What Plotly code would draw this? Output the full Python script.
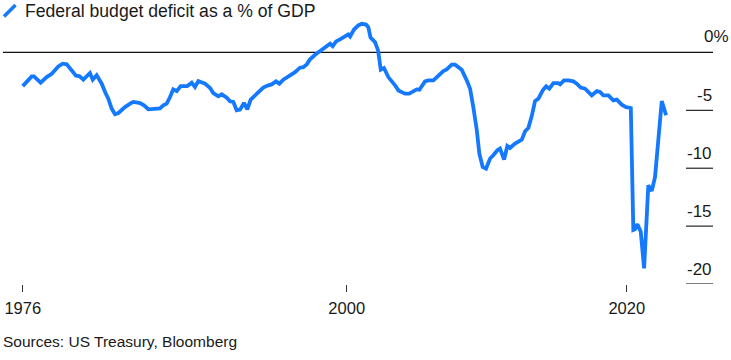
import plotly.graph_objects as go

# Data: 12-month federal budget balance as % of GDP
years = [
    1976.86, 1977.50, 1977.66, 1978.14, 1978.57, 1978.93, 1979.40, 1979.71, 1980.00, 1980.36,
    1980.66, 1980.90, 1981.19, 1981.66, 1981.86, 1982.14, 1982.50, 1982.74, 1982.97, 1983.21,
    1983.45, 1983.69, 1984.16, 1984.64, 1984.76, 1985.24, 1985.52, 1985.83, 1986.07, 1986.66,
    1986.90, 1987.14, 1987.38, 1987.61, 1987.86, 1988.14, 1988.61, 1988.93, 1989.16, 1989.40,
    1989.88, 1990.24, 1990.47, 1990.83, 1991.07, 1991.43, 1991.66, 1991.90, 1992.14, 1992.38,
    1992.66, 1992.90, 1993.14, 1993.52, 1993.81, 1994.04, 1994.40, 1994.64, 1994.95, 1995.19,
    1995.47, 1995.95, 1996.31, 1996.66, 1996.90, 1997.14, 1997.38, 1997.74, 1998.09, 1998.57,
    1998.81, 1999.00, 1999.24, 1999.52, 1999.88, 2000.11, 2000.24, 2000.52, 2000.83, 2001.07,
    2001.38, 2001.54, 2001.70, 2002.02, 2002.24, 2002.43, 2002.66, 2002.97, 2003.45, 2003.69,
    2004.16, 2004.47, 2005.00, 2005.19, 2005.59, 2005.83, 2006.19, 2006.54, 2006.90, 2007.14,
    2007.50, 2007.74, 2008.21, 2008.57, 2008.81, 2009.04, 2009.29, 2009.47, 2009.71, 2009.95,
    2010.24, 2010.47, 2010.76, 2010.95, 2011.24, 2011.47, 2011.66, 2012.02, 2012.38, 2012.50,
    2012.74, 2012.97, 2013.21, 2013.45, 2013.69, 2014.00, 2014.24, 2014.47, 2014.76, 2015.11,
    2015.24, 2015.52, 2015.83, 2016.19, 2016.43, 2016.71, 2017.02, 2017.50, 2017.86, 2018.09,
    2018.33, 2018.69, 2019.04, 2019.29, 2019.64, 2019.95, 2020.29, 2020.47, 2020.59, 2020.76,
    2021.00, 2021.24, 2021.54, 2021.79, 2022.02, 2022.50, 2022.81,
]
deficit_pct = [
    -2.91, -2.07, -2.07, -2.61, -2.13, -1.84, -1.21, -0.97, -1.03, -1.55,
    -2.01, -2.04, -2.35, -1.78, -2.35, -1.96, -2.70, -3.42, -3.99, -4.85,
    -5.34, -5.23, -4.72, -4.34, -4.28, -4.37, -4.57, -4.91, -4.89, -4.83,
    -4.57, -4.42, -3.85, -3.19, -3.34, -2.91, -2.91, -2.61, -2.99, -2.47,
    -2.70, -3.08, -3.51, -3.79, -3.62, -3.91, -4.22, -4.28, -5.00, -4.94,
    -4.37, -4.91, -4.08, -3.62, -3.34, -3.04, -2.84, -2.76, -2.50, -2.70,
    -2.35, -1.98, -1.70, -1.32, -1.27, -1.03, -0.60, -0.20, 0.11, 0.60,
    0.75, 0.54, 0.95, 1.12, 1.38, 1.55, 1.38, 1.98, 2.33, 2.47,
    2.41, 2.18, 1.29, 0.89, 0.17, -1.49, -1.35, -2.13, -2.84, -3.28,
    -3.56, -3.56, -3.19, -3.22, -2.50, -2.41, -2.41, -1.98, -1.61, -1.47,
    -1.06, -1.06, -1.49, -2.41, -3.13, -4.72, -6.72, -8.73, -9.89, -10.03,
    -9.16, -8.88, -8.45, -8.30, -9.25, -8.08, -8.25, -7.87, -7.67, -7.53,
    -6.81, -6.53, -5.52, -4.20, -3.99, -3.28, -2.93, -3.13, -2.65, -2.65,
    -2.76, -2.41, -2.41, -2.50, -2.70, -3.04, -3.13, -3.71, -3.34, -3.42,
    -3.71, -3.71, -4.14, -4.08, -4.51, -4.72, -4.80, -15.34, -15.28, -14.83,
    -15.49, -18.65, -11.47, -11.96, -10.75, -4.20, -5.43,
]

x_tick_vals = [years[0], 2000, 2020]
x_tick_text = ["1976", "2000", "2020"]
y_tick_vals = [0, -5, -10, -15, -20]
y_tick_text = ["0%", "-5", "-10", "-15", "-20"]

title_text = "Federal budget deficit as a % of GDP"
source_text = "Sources: US Treasury, Bloomberg"

BLUE = "#1479ff"
INK = "#1a1a1a"
FONT = "Liberation Sans, Arial, Helvetica, sans-serif"

W, H = 731, 360
ML, MR, MT, MB = 3, 18, 20, 76
plot_h = H - MT - MB
plot_w = W - ML - MR


def px_to_paper_x(px):
    return (px - ML) / plot_w


def px_to_paper_y(py):
    return (H - MB - py) / plot_h


fig = go.Figure()
fig.add_trace(go.Scatter(
    x=years, y=deficit_pct, mode="lines",
    line=dict(color=BLUE, width=3.8),
    hoverinfo="skip", showlegend=False,
))

shapes = []
annotations = []
for v, t in zip(y_tick_vals, y_tick_text):
    if v == 0:
        shapes.append(dict(type="line", xref="paper", yref="y", x0=0, x1=1, y0=v, y1=v,
                           line=dict(color="#111111", width=1.3), layer="below"))
        annotations.append(dict(xref="paper", yref="y", x=1, y=v, text=t, showarrow=False,
                                xanchor="left", yanchor="middle", xshift=-11, yshift=16,
                                font=dict(size=17, color=INK, family=FONT)))
    else:
        shapes.append(dict(type="line", xref="paper", yref="y", x0=px_to_paper_x(686), x1=1,
                           y0=v, y1=v, line=dict(color="#111111", width=1.1), layer="below"))
        annotations.append(dict(xref="paper", yref="y", x=1, y=v, text=t, showarrow=False,
                                xanchor="right", yanchor="middle", xshift=1, yshift=15,
                                font=dict(size=17, color=INK, family=FONT)))

# legend glyph next to title
shapes.append(dict(type="line", xref="paper", yref="paper",
                   x0=px_to_paper_x(4), y0=px_to_paper_y(16.5),
                   x1=px_to_paper_x(15.5), y1=px_to_paper_y(5),
                   line=dict(color=BLUE, width=3.6)))
annotations.append(dict(xref="paper", yref="paper", x=px_to_paper_x(23), y=px_to_paper_y(11.5),
                        text=title_text, showarrow=False, xanchor="left", yanchor="middle",
                        font=dict(size=17.6, color=INK, family=FONT)))
annotations.append(dict(xref="paper", yref="paper", x=px_to_paper_x(1), y=px_to_paper_y(341),
                        text=source_text, showarrow=False, xanchor="left", yanchor="middle",
                        font=dict(size=15.5, color=INK, family=FONT)))

fig.update_layout(
    width=W, height=H,
    margin=dict(l=ML, r=MR, t=MT, b=MB, pad=0),
    paper_bgcolor="white", plot_bgcolor="white",
    shapes=shapes, annotations=annotations,
    font=dict(family=FONT, color=INK),
)
fig.update_xaxes(range=[1975.45, 2026.16], tickvals=x_tick_vals, ticktext=x_tick_text,
                 ticks="outside", ticklen=7, tickwidth=1, tickcolor="#333333",
                 ticklabelstandoff=2,
                 showgrid=False, zeroline=False, showline=False,
                 tickfont=dict(size=16.5, color=INK, family=FONT))
fig.update_yaxes(range=[-20.0, 2.8], visible=False, showgrid=False, zeroline=False)

fig.write_html("out.html", config={"displayModeBar": False, "staticPlot": True},
               post_script="document.body.style.margin='0';document.body.style.padding='0';")
